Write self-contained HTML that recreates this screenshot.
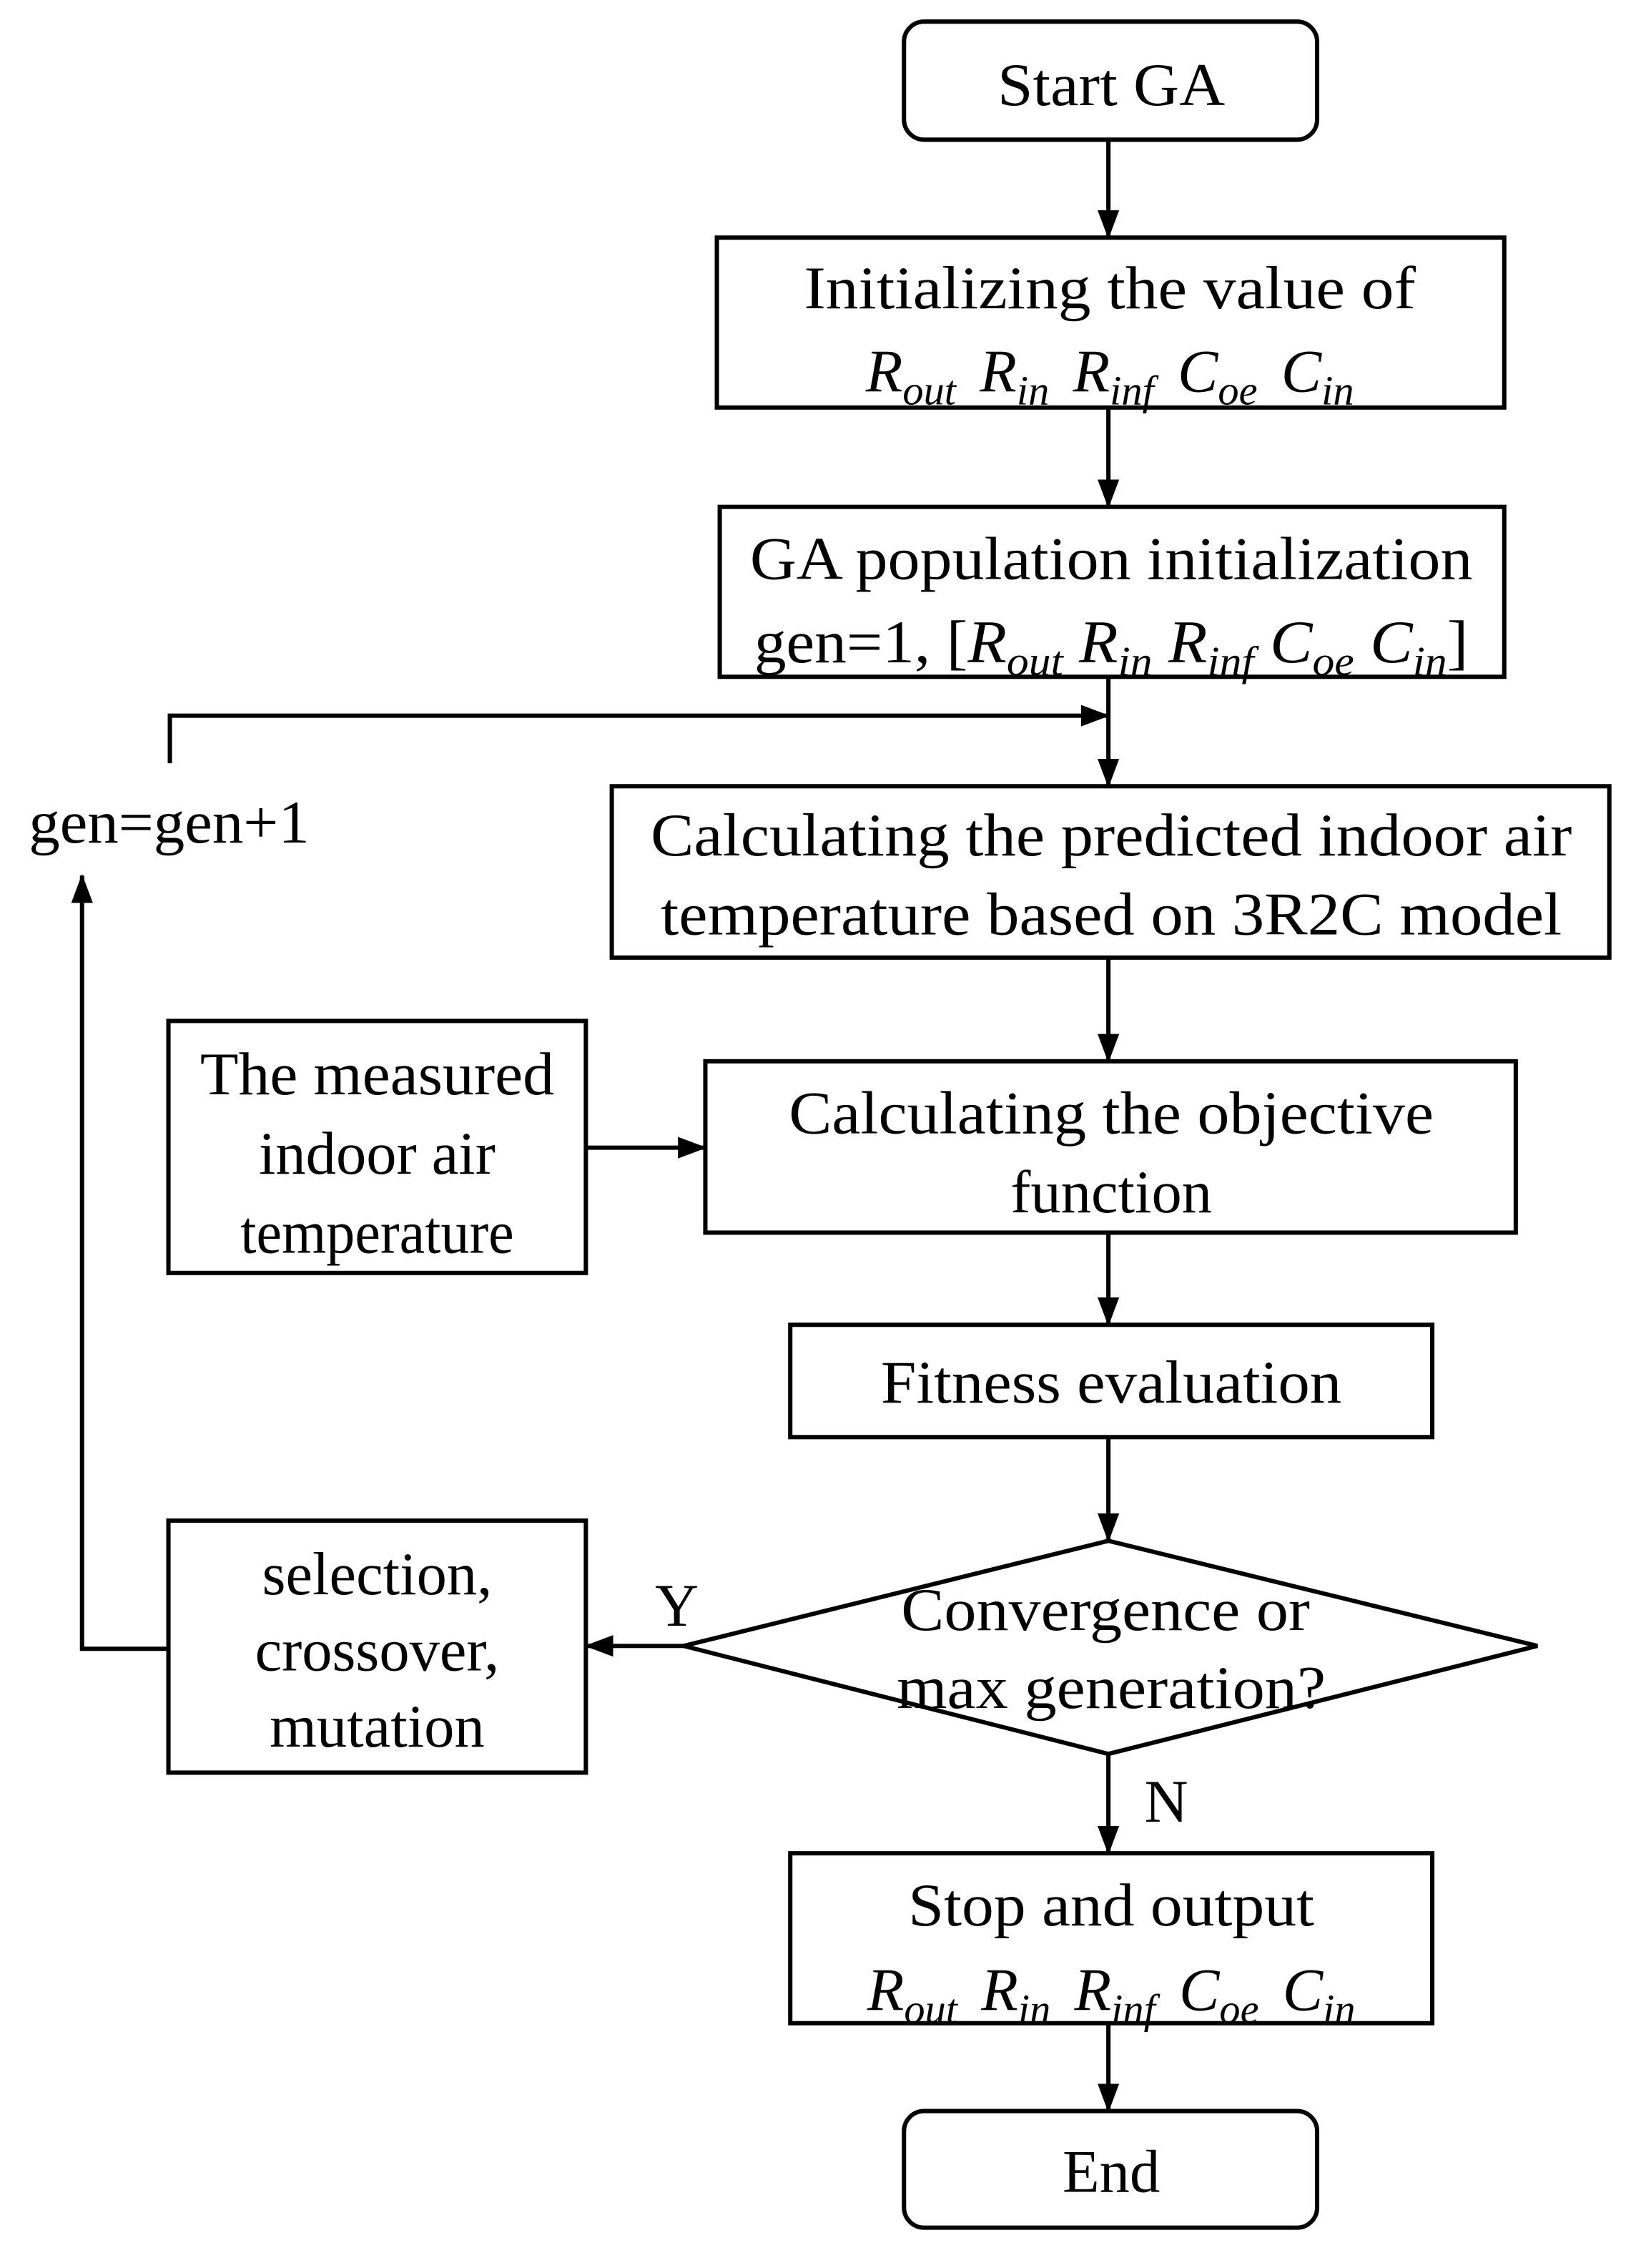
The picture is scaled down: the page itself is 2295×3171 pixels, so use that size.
<!DOCTYPE html>
<html><head><meta charset="utf-8">
<style>
html,body{margin:0;padding:0;background:#fff;}
svg{display:block;}
text{font-family:"Liberation Serif",serif;font-size:42px;fill:#000;}
.v{font-style:italic;}
.s{font-style:italic;font-size:29px;}
</style></head>
<body>
<svg width="2295" height="3171" viewBox="0 0 1140 1575" preserveAspectRatio="none" xmlns="http://www.w3.org/2000/svg">
<defs>
<marker id="b" markerWidth="20" markerHeight="20" refX="19" refY="10" orient="auto" markerUnits="userSpaceOnUse" viewBox="0 0 20 20">
<path d="M0,2.5 L20,10 L0,17.5 z" fill="#000"/>
</marker>
</defs>
<g fill="none" stroke="#000" stroke-width="3">
<rect x="628" y="15" width="287" height="82" rx="14"/>
<rect x="498" y="165" width="547" height="118"/>
<rect x="500" y="352" width="545" height="118"/>
<rect x="425" y="546" width="693" height="119"/>
<rect x="117" y="709" width="290" height="175"/>
<rect x="490" y="737" width="563" height="119"/>
<rect x="549" y="920" width="446" height="78"/>
<polygon points="770,1070 1068,1143 770,1218 475,1143"/>
<rect x="117" y="1056" width="290" height="175"/>
<rect x="549" y="1287" width="446" height="118"/>
<rect x="628" y="1466" width="287" height="81" rx="14"/>
<g marker-end="url(#b)">
<line x1="770" y1="97" x2="770" y2="165"/>
<line x1="770" y1="283" x2="770" y2="352"/>
<line x1="770" y1="470" x2="770" y2="546"/>
<polyline points="118,530 118,497 770,497"/>
<line x1="770" y1="665" x2="770" y2="737"/>
<line x1="407" y1="797" x2="490" y2="797"/>
<line x1="770" y1="856" x2="770" y2="920"/>
<line x1="770" y1="998" x2="770" y2="1070"/>
<line x1="475" y1="1143" x2="407" y2="1143"/>
<polyline points="117,1145 57,1145 57,608"/>
<line x1="770" y1="1218" x2="770" y2="1287"/>
<line x1="770" y1="1405" x2="770" y2="1466"/>
</g>
</g>
<g text-anchor="middle">
<text x="772" y="73" textLength="158" lengthAdjust="spacingAndGlyphs">Start GA</text>
<text x="771" y="214" textLength="425" lengthAdjust="spacingAndGlyphs">Initializing the value of</text>
<text x="771" y="272" word-spacing="6"><tspan class="v">R</tspan><tspan class="s" dy="9">out</tspan><tspan class="v" dy="-9"> R</tspan><tspan class="s" dy="9">in</tspan><tspan class="v" dy="-9">  R</tspan><tspan class="s" dy="9">inf</tspan><tspan class="v" dy="-9">  C</tspan><tspan class="s" dy="9">oe</tspan><tspan class="v" dy="-9"> C</tspan><tspan class="s" dy="9">in</tspan></text>
<text x="772" y="402" textLength="502" lengthAdjust="spacingAndGlyphs">GA population initialization</text>
<text x="772" y="460" textLength="496" lengthAdjust="spacingAndGlyphs">gen=1, [<tspan class="v">R</tspan><tspan class="s" dy="9">out</tspan><tspan class="v" dy="-9"> R</tspan><tspan class="s" dy="9">in</tspan><tspan class="v" dy="-9"> R</tspan><tspan class="s" dy="9">inf</tspan><tspan class="v" dy="-9"> C</tspan><tspan class="s" dy="9">oe</tspan><tspan class="v" dy="-9"> C</tspan><tspan class="s" dy="9">in</tspan><tspan dy="-9">]</tspan></text>
<text x="772" y="594" textLength="640" lengthAdjust="spacingAndGlyphs">Calculating the predicted indoor air</text>
<text x="772" y="649" textLength="626" lengthAdjust="spacingAndGlyphs">temperature based on 3R2C model</text>
<text x="262" y="760" textLength="246" lengthAdjust="spacingAndGlyphs">The measured</text>
<text x="262" y="815">indoor air</text>
<text x="262" y="870" textLength="190" lengthAdjust="spacingAndGlyphs">temperature</text>
<text x="772" y="787" textLength="448" lengthAdjust="spacingAndGlyphs">Calculating the objective</text>
<text x="772" y="842">function</text>
<text x="772" y="974" textLength="320" lengthAdjust="spacingAndGlyphs">Fitness evaluation</text>
<text x="768" y="1132" textLength="284" lengthAdjust="spacingAndGlyphs">Convergence or</text>
<text x="772" y="1186" textLength="298" lengthAdjust="spacingAndGlyphs">max generation?</text>
<text x="262" y="1107">selection,</text>
<text x="262" y="1160">crossover,</text>
<text x="262" y="1213">mutation</text>
<text x="772" y="1337" textLength="282" lengthAdjust="spacingAndGlyphs">Stop and output</text>
<text x="772" y="1396" word-spacing="6"><tspan class="v">R</tspan><tspan class="s" dy="9">out</tspan><tspan class="v" dy="-9"> R</tspan><tspan class="s" dy="9">in</tspan><tspan class="v" dy="-9">  R</tspan><tspan class="s" dy="9">inf</tspan><tspan class="v" dy="-9">  C</tspan><tspan class="s" dy="9">oe</tspan><tspan class="v" dy="-9"> C</tspan><tspan class="s" dy="9">in</tspan></text>
<text x="772" y="1522">End</text>
</g>
<text x="20" y="585" textLength="195" lengthAdjust="spacingAndGlyphs">gen=gen+1</text>
<text x="455" y="1129">Y</text>
<text x="795" y="1265">N</text>
</svg>
</body></html>
